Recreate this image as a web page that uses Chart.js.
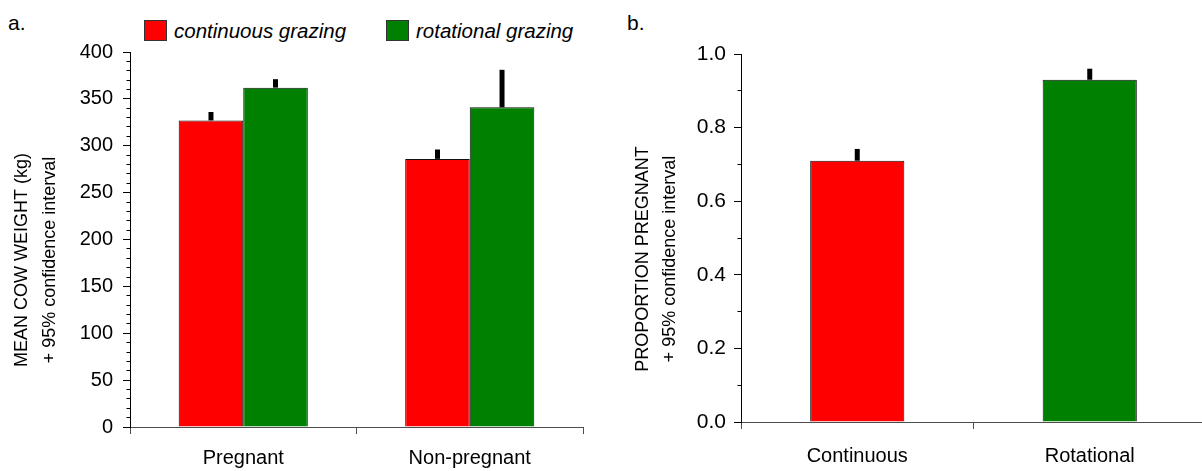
<!DOCTYPE html>
<html>
<head>
<meta charset="utf-8">
<script src="https://cdn.jsdelivr.net/npm/chart.js@4.4.1/dist/chart.umd.min.js"></script>
<style>
  html, body { margin: 0; padding: 0; background: #fff; overflow: hidden; }
  body { width: 1202px; height: 471px; position: relative; font-family: 'Liberation Sans', Arial, sans-serif; color: #000; }
  .panel { position: absolute; top: 0; }
  .tag { position: absolute; top: 12px; font-size: 21px; line-height: 1; }
  .key { position: absolute; top: 20px; height: 21px; display: flex; align-items: center; font-size: 20.5px; font-style: italic; white-space: nowrap; }
  .key i { display: inline-block; width: 21px; height: 19px; border: 1px solid #333; margin-right: 7px; }
</style>
</head>
<body>
<div class="tag" style="left:8px">a.</div>
<div class="tag" style="left:627px">b.</div>
<div id="legend"></div>
<canvas id="chartA" class="panel" width="600" height="471" style="left:0"></canvas>
<canvas id="chartB" class="panel" width="606" height="471" style="left:600px"></canvas>
<script>
// panel a: mean cow weight (kg), upper end of 95% CI
const groups = ['Pregnant', 'Non-pregnant'];
const contWeight = [327, 286];
const contWeightHi = [336, 296];
const rotWeight = [362, 341];
const rotWeightHi = [371, 381];
const weightTicks = [0, 50, 100, 150, 200, 250, 300, 350, 400];

// panel b: proportion pregnant, upper end of 95% CI
const treatments = ['Continuous', 'Rotational'];
const propPregnant = [0.71, 0.93];
const propPregnantHi = [0.742, 0.96];
const propTicks = [0, 0.2, 0.4, 0.6, 0.8, 1.0];

const RED = '#ff0000';
const GREEN = '#008000';

Chart.defaults.font.family = "'Liberation Sans', Arial, sans-serif";
Chart.defaults.color = '#000';

// upper half of the confidence interval, drawn as a thick line on each bar
const errorBars = {
    id: 'errorBars',
    afterDatasetsDraw(chart) {
        const ctx = chart.ctx;
        const y = chart.scales.y;
        chart.data.datasets.forEach(function(ds, i) {
            chart.getDatasetMeta(i).data.forEach(function(bar, j) {
                const top = y.getPixelForValue(ds.upper[j]);
                ctx.save();
                ctx.strokeStyle = '#000';
                ctx.lineWidth = 5;
                ctx.beginPath();
                ctx.moveTo(bar.x, bar.y);
                ctx.lineTo(bar.x, top);
                ctx.stroke();
                ctx.restore();
            });
        });
    }
};

// small unlabelled ticks between the major ones
const minorTicks = {
    id: 'minorTicks',
    afterDraw(chart, args, opts) {
        const y = chart.scales.y;
        const ctx = chart.ctx;
        const x0 = Math.floor(y.right) + 0.5;
        ctx.save();
        ctx.strokeStyle = '#000';
        ctx.lineWidth = 1;
        ctx.beginPath();
        for (let v = y.min; v <= y.max + 1e-9; v += opts.step) {
            const p = Math.floor(y.getPixelForValue(v)) + 0.5;
            ctx.moveTo(x0 - opts.len, p);
            ctx.lineTo(x0, p);
        }
        ctx.stroke();
        ctx.restore();
    }
};

// two-line rotated y axis title
const axisTitle = {
    id: 'axisTitle',
    afterDraw(chart, args, opts) {
        const ctx = chart.ctx;
        ctx.save();
        ctx.fillStyle = '#000';
        ctx.font = opts.font;
        ctx.textAlign = 'center';
        ctx.textBaseline = 'alphabetic';
        opts.lines.forEach(function(line, i) {
            ctx.save();
            ctx.translate(opts.x[i], opts.y);
            ctx.rotate(-Math.PI / 2);
            ctx.fillText(line, 0, 0);
            ctx.restore();
        });
        ctx.restore();
    }
};

const chartA = new Chart(document.getElementById('chartA'), {
    type: 'bar',
    data: {
        labels: groups,
        datasets: [
            { label: 'continuous grazing', data: contWeight, upper: contWeightHi, backgroundColor: RED },
            { label: 'rotational grazing', data: rotWeight, upper: rotWeightHi, backgroundColor: GREEN }
        ]
    },
    options: {
        responsive: false,
        animation: false,
        devicePixelRatio: 1,
        layout: { padding: { top: 52, right: 17, left: 0, bottom: 0 } },
        datasets: {
            bar: { categoryPercentage: 0.57, barPercentage: 1, borderWidth: 1, borderColor: '#111' }
        },
        scales: {
            x: {
                grid: { offset: true, drawOnChartArea: false, tickLength: 7, color: '#4d4d4d' },
                border: { color: '#4d4d4d' },
                ticks: { font: { size: 20 }, color: '#000', padding: 12 },
                afterFit: function(s) { s.height = 44; }
            },
            y: {
                min: weightTicks[0],
                max: weightTicks[weightTicks.length - 1],
                afterBuildTicks: function(s) { s.ticks = weightTicks.map(v => ({ value: v })); },
                grid: { drawOnChartArea: false, tickLength: 7, color: '#000' },
                border: { color: '#000' },
                ticks: { font: { size: 20 }, color: '#000', padding: 10 },
                afterFit: function(s) { s.width = 130; }
            }
        },
        plugins: {
            legend: { display: false },
            tooltip: { enabled: false },
            minorTicks: { step: 10, len: 4 },
            axisTitle: {
                lines: ['MEAN COW WEIGHT (kg)', '+ 95% confidence interval'],
                x: [27, 55], y: 260,
                font: "18px 'Liberation Sans', Arial, sans-serif"
            }
        }
    },
    plugins: [errorBars, minorTicks, axisTitle]
});

const chartB = new Chart(document.getElementById('chartB'), {
    type: 'bar',
    data: {
        labels: treatments,
        datasets: [
            { label: 'Proportion pregnant', data: propPregnant, upper: propPregnantHi, backgroundColor: [RED, GREEN] }
        ]
    },
    options: {
        responsive: false,
        animation: false,
        devicePixelRatio: 1,
        layout: { padding: { top: 54, right: 0, left: 0, bottom: 0 } },
        datasets: {
            bar: { categoryPercentage: 0.405, barPercentage: 1, borderWidth: 1, borderColor: '#111' }
        },
        scales: {
            x: {
                grid: { offset: true, drawOnChartArea: false, tickLength: 7, color: '#4d4d4d' },
                border: { color: '#4d4d4d' },
                ticks: { font: { size: 20 }, color: '#000', padding: 15 },
                afterFit: function(s) { s.height = 49; }
            },
            y: {
                min: propTicks[0],
                max: propTicks[propTicks.length - 1],
                afterBuildTicks: function(s) { s.ticks = propTicks.map(v => ({ value: v })); },
                grid: { drawOnChartArea: false, tickLength: 7, color: '#000' },
                border: { color: '#000' },
                ticks: {
                    font: { size: 21 },
                    color: '#000', padding: 8,
                    callback: function(v) { return Number(v).toFixed(1); }
                },
                afterFit: function(s) { s.width = 141; }
            }
        },
        plugins: {
            legend: { display: false },
            tooltip: { enabled: false },
            minorTicks: { step: 0.1, len: 4 },
            axisTitle: {
                lines: ['PROPORTION PREGNANT', '+ 95% confidence interval'],
                x: [48, 75], y: 259,
                font: "18px 'Liberation Sans', Arial, sans-serif"
            }
        }
    },
    plugins: [errorBars, minorTicks, axisTitle]
});

// legend for panel a, built from the dataset labels and colours
const keyLeft = [144, 386];
const legendBox = document.getElementById('legend');
chartA.data.datasets.forEach(function(ds, i) {
    const item = document.createElement('div');
    item.className = 'key';
    item.style.left = keyLeft[i] + 'px';
    item.innerHTML = '<i style="background:' + ds.backgroundColor + '"></i>' + ds.label;
    legendBox.appendChild(item);
});
</script>
</body>
</html>
